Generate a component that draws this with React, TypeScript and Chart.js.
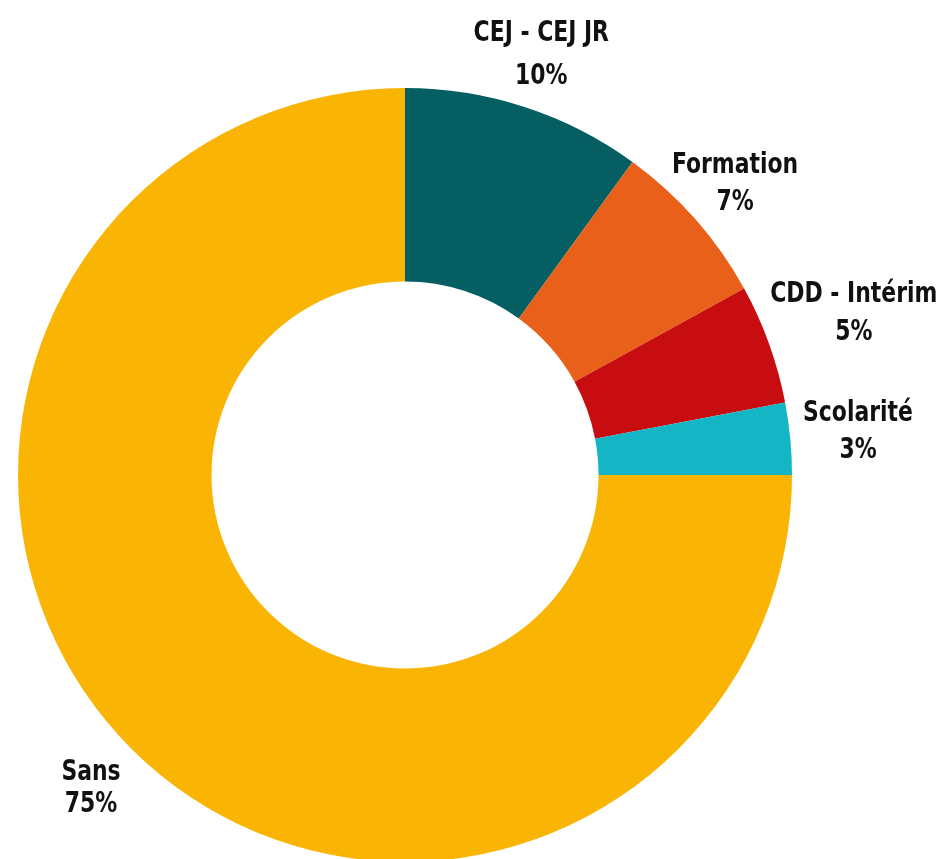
import React, { useEffect, useRef } from "react";
import { Chart, registerables } from "chart.js";

Chart.register(...registerables);

const categories = ["CEJ - CEJ JR", "Formation", "CDD - Intérim", "Scolarité", "Sans"];
const values = [10, 7, 5, 3, 75];
const colors = ["#055F62", "#E8601A", "#C70D0F", "#14B5C5", "#F9B404"];

// label layout (style only)
const labelDistance = [441, 440, 477, 455, 444];
const labelLineGap = [43, 37, 38, 37, 32];

const labelPlugin = {
  id: "outerLabels",
  afterDatasetsDraw(chart: any) {
    const ctx = chart.ctx;
    const meta = chart.getDatasetMeta(0);
    const total = values.reduce((a, b) => a + b, 0);
    ctx.save();
    ctx.fillStyle = "#111111";
    ctx.textAlign = "center";
    ctx.textBaseline = "middle";
    ctx.font = "bold 28px 'DejaVu Sans Condensed', 'DejaVu Sans', sans-serif";
    const drawScaled = (text: string, x: number, y: number) => {
      ctx.save();
      ctx.translate(x, y);
      ctx.scale(0.87, 1);
      ctx.fillText(text, 0, 0);
      ctx.restore();
    };
    meta.data.forEach((arc: any, i: number) => {
      const { x, y, startAngle, endAngle } = arc.getProps(["x", "y", "startAngle", "endAngle"], true);
      const mid = (startAngle + endAngle) / 2;
      const d = labelDistance[i];
      const cx = x + Math.cos(mid) * d;
      const cy = y + Math.sin(mid) * d;
      const gap = labelLineGap[i];
      const pct = Math.round((values[i] / total) * 100) + "%";
      drawScaled(categories[i], cx, cy - gap / 2);
      drawScaled(pct, cx, cy + gap / 2);
    });
    ctx.restore();
  },
};

export default function App() {
  const ref = useRef<HTMLCanvasElement>(null);
  useEffect(() => {
    if (!ref.current) return;
    const chart = new Chart(ref.current, {
      type: "doughnut",
      data: {
        labels: categories,
        datasets: [
          {
            data: values,
            backgroundColor: colors,
            borderWidth: 0,
            hoverOffset: 0,
          },
        ],
      },
      options: {
        responsive: false,
        animation: false,
        cutout: "50%",
        layout: { padding: { left: 18, right: 150, top: 88, bottom: 18 } },
        plugins: {
          legend: { display: false },
          tooltip: { enabled: false },
        },
      },
      plugins: [labelPlugin],
    });
    return () => chart.destroy();
  }, []);
  return (
    <div
      style={{
        position: "absolute",
        left: 0,
        top: 0,
        width: 942,
        height: 859,
        overflow: "hidden",
        background: "#ffffff",
      }}
    >
      <canvas ref={ref} width={942} height={880} style={{ width: 942, height: 880, display: "block" }} />
    </div>
  );
}
